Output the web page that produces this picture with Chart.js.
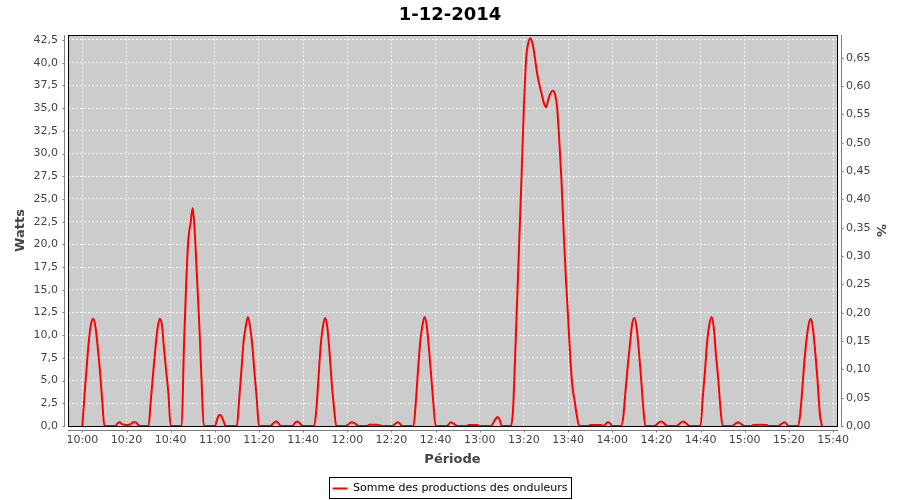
<!DOCTYPE html>
<html>
<head>
<meta charset="utf-8">
<script src="https://cdn.jsdelivr.net/npm/chart.js@4"></script>
<style>
  body { margin: 0; background: #fff; }
  canvas { display: block; }
</style>
</head>
<body>
<canvas id="myChart" width="900" height="500"></canvas>
<script>
// data (time of day, watts)
var times = [
  "10:00","10:01","10:02","10:03","10:04","10:05","10:06","10:07","10:08","10:09","10:10",
  "10:15","10:16","10:17","10:18","10:20","10:22","10:23","10:24","10:26",
  "10:30","10:31","10:32","10:33","10:34","10:35","10:36","10:37","10:38","10:39","10:40",
  "10:45","10:46","10:47","10:48","10:49","10:50","10:51","10:52","10:53","10:54","10:55",
  "11:00","11:01","11:02","11:03","11:04","11:05",
  "11:10","11:11","11:12","11:13","11:14","11:15","11:16","11:17","11:18","11:19","11:20",
  "11:25","11:27","11:28","11:30","11:35","11:37","11:38","11:40",
  "11:45","11:46","11:47","11:48","11:49","11:50","11:51","11:52","11:53","11:54","11:55",
  "11:59","12:02","12:04","12:05","12:09","12:10","12:13","12:16","12:20","12:23","12:25",
  "12:30","12:31","12:32","12:33","12:34","12:35","12:36","12:37","12:38","12:39","12:40",
  "12:45","12:47","12:48","12:50","12:54","12:55","12:59","13:00",
  "13:05","13:07","13:08","13:09","13:10",
  "13:14","13:15","13:16","13:17","13:18","13:19","13:20","13:21","13:22","13:23","13:24",
  "13:25","13:26","13:27","13:28","13:29","13:30","13:31","13:32","13:33","13:34","13:35",
  "13:36","13:37","13:38","13:39","13:40","13:41","13:42","13:43","13:44","13:45",
  "13:49","13:50","13:55","13:56","13:57","13:58","13:59","14:00",
  "14:04","14:05","14:06","14:07","14:08","14:09","14:10","14:11","14:12","14:13","14:14","14:15",
  "14:19","14:22","14:23","14:25","14:29","14:32","14:33","14:35",
  "14:40","14:41","14:42","14:43","14:44","14:45","14:46","14:47","14:48","14:49","14:50",
  "14:54","14:57","14:58","15:00","15:03","15:04","15:07","15:10","15:11",
  "15:15","15:17","15:18","15:20",
  "15:24","15:25","15:26","15:27","15:28","15:29","15:30","15:31","15:32","15:33","15:34","15:35"
];
var watts = [
  0,3.5,6.6,9.5,11.3,11.8,10.8,8.6,6.0,2.8,0,
  0,0.3,0.4,0.2,0.1,0.2,0.4,0.4,0,
  0,2.8,5.6,8.3,10.6,11.8,11.2,8.5,6.0,3.5,0,
  0,8.6,15.5,20.5,22.3,24.0,21.0,16.0,11.0,5.0,0,
  0,0.7,1.2,1.1,0.5,0,
  0,2.8,6.0,9.2,10.9,12.0,10.9,8.8,5.8,3.0,0,
  0,0.4,0.5,0,0,0.5,0.4,0,
  0,1.8,5.5,9.0,11.0,11.9,10.8,8.0,4.6,2.0,0,
  0,0.4,0.2,0,0,0.15,0.15,0,0,0.4,0,
  0,2.5,6.0,9.2,11.0,12.0,11.0,8.5,5.5,2.5,0,
  0,0.4,0.3,0,0,0.1,0.1,0,
  0,0.7,1.0,0.7,0,
  0,1.5,7.5,14.3,21.2,27.9,35.2,40.4,42.2,42.7,42.0,
  40.5,38.8,37.6,36.6,35.6,35.1,35.9,36.6,36.9,36.6,35.2,
  31.5,27.1,21.4,16.3,12.0,7.5,4.3,2.7,1.1,0,
  0,0.1,0.1,0,0.2,0.4,0.3,0,
  0,1.0,3.8,6.5,8.9,11.2,11.9,10.9,8.5,5.5,2.2,0,
  0,0.5,0.4,0,0,0.5,0.4,0,
  0,3.2,6.0,9.3,11.2,12.0,10.8,7.8,5.2,2.0,0,
  0,0.4,0.3,0,0,0.1,0.15,0.1,0,
  0,0.3,0.4,0,
  0,1.0,3.8,7.0,9.5,11.2,11.8,10.5,8.0,5.0,1.4,0
];
var xTickLabels = ["10:00","10:20","10:40","11:00","11:20","11:40","12:00","12:20","12:40",
  "13:00","13:20","13:40","14:00","14:20","14:40","15:00","15:20","15:40"];
var wattTicks = [0,2.5,5,7.5,10,12.5,15,17.5,20,22.5,25,27.5,30,32.5,35,37.5,40,42.5];
var pctTicks = [0,0.05,0.1,0.15,0.2,0.25,0.3,0.35,0.4,0.45,0.5,0.55,0.6,0.65];

var FONT = "'DejaVu Sans', sans-serif";

// minutes since 10:00
function toMin(t){
  var p = t.split(":");
  return (parseInt(p[0]) - 10) * 60 + parseInt(p[1]);
}
function pad2(n){ return (n < 10 ? "0" : "") + n; }
function minLabel(m){
  return pad2(10 + Math.floor(m / 60)) + ":" + pad2(m % 60);
}

var points = times.map(function(t, i){ return {x: toMin(t), y: watts[i]}; });

// grey plot, black outline, detached axes like the original
var plotStyle = {
  id: "plotStyle",
  beforeDraw: function(chart){
    var a = chart.chartArea, ctx = chart.ctx;
    ctx.save();
    ctx.fillStyle = "#cccccc";
    ctx.fillRect(a.left, a.top, a.right - a.left, a.bottom - a.top);
    ctx.restore();
  },
  afterDatasetsDraw: function(chart){
    var a = chart.chartArea, ctx = chart.ctx;
    ctx.save();
    ctx.strokeStyle = "#000";
    ctx.lineWidth = 1;
    ctx.strokeRect(a.left + 0.5, a.top + 0.5, a.right - a.left, a.bottom - a.top);
    ctx.restore();
  },
  afterDraw: function(chart){
    var a = chart.chartArea, ctx = chart.ctx;
    var s = chart.scales;
    ctx.save();
    ctx.strokeStyle = "#808080";
    ctx.lineWidth = 1;
    ctx.beginPath();
    // left axis
    var lx = a.left - 4 + 0.5;
    ctx.moveTo(lx, a.top); ctx.lineTo(lx, a.bottom + 1);
    s.y.ticks.forEach(function(t){
      var py = Math.round(s.y.getPixelForValue(t.value)) + 0.5;
      ctx.moveTo(lx - 2, py); ctx.lineTo(lx, py);
    });
    // right axis
    var rx = a.right + 4 + 0.5;
    ctx.moveTo(rx, a.top); ctx.lineTo(rx, a.bottom + 1);
    s.y2.ticks.forEach(function(t){
      var py = Math.round(s.y2.getPixelForValue(t.value)) + 0.5;
      ctx.moveTo(rx, py); ctx.lineTo(rx + 2, py);
    });
    // bottom axis
    var by = a.bottom + 4 + 0.5;
    ctx.moveTo(a.left, by); ctx.lineTo(a.right + 1, by);
    s.x.ticks.forEach(function(t){
      var px = Math.round(s.x.getPixelForValue(t.value)) + 0.5;
      ctx.moveTo(px, by); ctx.lineTo(px, by + 2);
    });
    ctx.stroke();
    // legend frame
    var hb = chart.legend.legendHitBoxes[0];
    if (hb) {
      ctx.strokeStyle = "#000";
      ctx.strokeRect(Math.round(hb.left) - 3.5, Math.round(hb.top) - 5.5,
        Math.round(hb.width) + 7, Math.round(hb.height) + 10);
    }
    ctx.restore();
  }
};

new Chart("myChart", {
  type: "line",
  data: {
    datasets: [{
      label: "Somme des productions des onduleurs",
      data: points,
      borderColor: "#ff0000",
      backgroundColor: "#ff0000",
      borderWidth: 2,
      pointRadius: 0,
      fill: false,
      cubicInterpolationMode: "monotone",
      yAxisID: "y"
    }]
  },
  plugins: [plotStyle],
  options: {
    responsive: false,
    animation: false,
    layout: { padding: { top: 0, left: 0, right: 0, bottom: -4 } },
    plugins: {
      title: {
        display: true,
        text: "1-12-2014",
        color: "#000",
        font: { family: FONT, size: 18, weight: "bold" },
        padding: { top: 5, bottom: 8.4 }
      },
      legend: {
        position: "bottom",
        labels: {
          color: "#000",
          font: { family: FONT, size: 11 },
          boxWidth: 15,
          boxHeight: 2,
          padding: 3,
          generateLabels: function(chart){
            var items = Chart.defaults.plugins.legend.labels.generateLabels(chart);
            items.forEach(function(it){ it.lineWidth = 0; it.fillStyle = "#ff0000"; });
            return items;
          }
        }
      },
      tooltip: { enabled: false }
    },
    scales: {
      x: {
        type: "linear",
        min: -6.5,
        max: 341.8,
        afterBuildTicks: function(scale){
          scale.ticks = xTickLabels.map(function(l){ return {value: toMin(l)}; });
        },
        afterFit: function(scale){ scale.height = 54; },
        ticks: {
          color: "#444",
          font: { family: FONT, size: 11 },
          padding: 8,
          maxRotation: 0,
          autoSkip: false,
          callback: function(v){ return minLabel(v); }
        },
        grid: { color: "#ffffff", drawTicks: false },
        border: { display: false, dash: [2, 2] },
        title: {
          display: true,
          text: "Période",
          color: "#444",
          font: { family: FONT, size: 13, weight: "bold" },
          padding: { top: 2, bottom: 12.2 }
        }
      },
      y: {
        position: "left",
        min: 0,
        max: 43.05,
        afterBuildTicks: function(scale){
          scale.ticks = wattTicks.map(function(v){ return {value: v}; });
        },
        afterFit: function(scale){ scale.width = 68; },
        ticks: {
          color: "#444",
          font: { family: FONT, size: 11 },
          padding: 10,
          autoSkip: false,
          callback: function(v){ return v.toFixed(1).replace(".", ","); }
        },
        grid: { color: "#ffffff", drawTicks: false },
        border: { display: false, dash: [2, 2] },
        title: {
          display: true,
          text: "Watts",
          color: "#444",
          font: { family: FONT, size: 13, weight: "bold" },
          padding: { top: 13.2, bottom: 0 }
        }
      },
      y2: {
        position: "right",
        display: true,
        min: 0,
        max: 0.69,
        afterBuildTicks: function(scale){
          scale.ticks = pctTicks.map(function(v){ return {value: v}; });
        },
        afterFit: function(scale){ scale.width = 63; },
        ticks: {
          color: "#444",
          font: { family: FONT, size: 11 },
          padding: 9,
          autoSkip: false,
          callback: function(v){ return v.toFixed(2).replace(".", ","); }
        },
        grid: { display: false, drawTicks: false },
        border: { display: false },
        title: {
          display: true,
          text: "%",
          color: "#444",
          font: { family: FONT, size: 13, weight: "bold" },
          padding: { top: 12.2, bottom: 0 }
        }
      }
    }
  }
});
</script>
</body>
</html>
